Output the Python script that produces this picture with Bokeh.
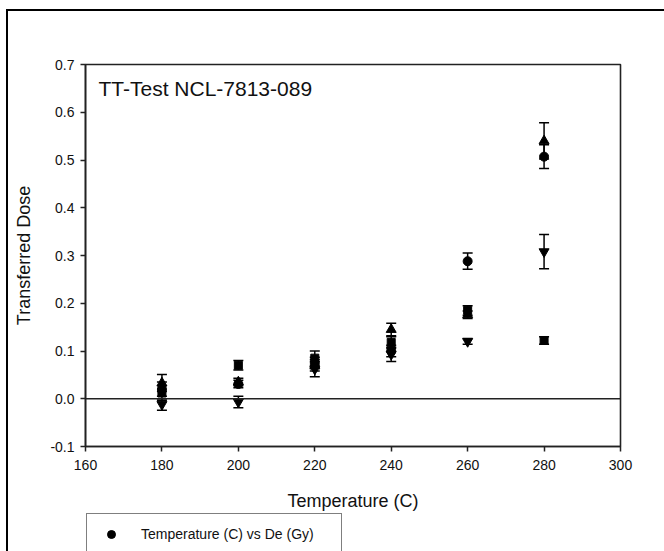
from bokeh.plotting import figure
from bokeh.layouts import column, row
from bokeh.models import (ColumnDataSource, Whisker, TeeHead, Span, Legend, LegendItem,
                          Label, FixedTicker, NumeralTickFormatter, Div)
from bokeh.embed import file_html
from bokeh.resources import INLINE

# ---- data ----
temperatures = [180, 200, 220, 240, 260, 280]

circle_dose = [0.020, 0.031, 0.075, 0.100, 0.288, 0.507]
circle_err = [0.015, 0.008, 0.012, 0.012, 0.017, 0.025]

tri_down_dose = [-0.012, -0.007, 0.062, 0.093, 0.120, 0.308]
tri_down_err = [0.012, 0.012, 0.016, 0.015, 0.006, 0.036]

square_dose = [0.012, 0.070, 0.085, 0.118, 0.185, 0.122]
square_err = [0.015, 0.010, 0.015, 0.012, 0.010, 0.008]

tri_up_dose = [0.033, 0.035, 0.070, 0.145, 0.176, 0.540]
tri_up_err = [0.018, 0.008, 0.012, 0.013, 0.008, 0.038]

x_ticks = [160, 180, 200, 220, 240, 260, 280, 300]
y_ticks = [-0.1, 0.0, 0.1, 0.2, 0.3, 0.4, 0.5, 0.6, 0.7]

title_text = "TT-Test NCL-7813-089"
x_title = "Temperature (C)"
y_title = "Transferred Dose"
legend_label = "Temperature (C) vs De (Gy)"

FONT = "Liberation Sans"
X_RANGE = (160, 300)

p = figure(frame_width=535, frame_height=382,
           min_border_left=77, min_border_top=53, min_border_right=44, min_border_bottom=40,
           x_range=X_RANGE, y_range=(-0.1, 0.7),
           output_backend="svg", toolbar_location=None)

p.xgrid.visible = False
p.ygrid.visible = False
p.outline_line_color = "#222222"
p.outline_line_width = 1.6
p.outline_line_alpha = 1.0

for ax in (p.xaxis[0], p.yaxis[0]):
    ax.axis_line_width = 1.6
    ax.axis_line_color = "#222222"
    ax.major_tick_line_width = 1.5
    ax.major_tick_line_color = "#222222"
    ax.major_tick_out = 5
    ax.major_tick_in = 0
    ax.minor_tick_out = 0
    ax.minor_tick_in = 0
    ax.major_label_text_font = FONT
    ax.major_label_text_font_size = "14px"
    ax.major_label_text_color = "#111111"
    ax.axis_label_text_font = FONT
    ax.axis_label_text_font_size = "18px"
    ax.axis_label_text_font_style = "normal"
    ax.axis_label_text_color = "#111111"

p.xaxis.ticker = FixedTicker(ticks=x_ticks)
p.yaxis.ticker = FixedTicker(ticks=y_ticks)
p.yaxis.formatter = NumeralTickFormatter(format="0.0")
p.yaxis.axis_label = y_title
p.xaxis.major_label_standoff = 8
p.yaxis.major_label_standoff = 6
p.yaxis.axis_label_standoff = 13

# zero reference line
p.add_layout(Span(location=0, dimension="width", line_color="#222222", line_width=1.6))

series = [
    (circle_dose, circle_err, "circle", 9),
    (tri_down_dose, tri_down_err, "inverted_triangle", 10),
    (square_dose, square_err, "square", 8),
    (tri_up_dose, tri_up_err, "triangle", 10),
]

renderers = []
for dose, err, marker, size in series:
    src = ColumnDataSource(dict(
        x=temperatures,
        y=dose,
        upper=[d + e for d, e in zip(dose, err)],
        lower=[d - e for d, e in zip(dose, err)],
    ))
    w = Whisker(source=src, base="x", upper="upper", lower="lower", dimension="height",
                line_color="black", line_width=1.5,
                upper_head=TeeHead(size=10, line_width=1.5, line_color="black"),
                lower_head=TeeHead(size=10, line_width=1.5, line_color="black"))
    p.add_layout(w)
    r = p.scatter("x", "y", source=src, marker=marker, size=size,
                  fill_color="black", line_color="black")
    renderers.append(r)

p.add_layout(Label(x=163.4, y=0.65, text=title_text, text_font=FONT,
                   text_font_size="21px", text_baseline="middle", text_color="#111111"))

# ---- strip below the chart: x-axis title and legend (cut off at the window's bottom) ----
p2 = figure(width=656, height=65, min_border=0, x_range=X_RANGE, y_range=(100, 165),
            output_backend="svg", toolbar_location=None)
p2.axis.visible = False
p2.grid.visible = False
p2.outline_line_color = None
# same circle series, outside this strip's visible range: only its legend glyph shows
legend_glyph = p2.scatter(x=temperatures, y=circle_dose, marker="circle", size=9,
                          fill_color="black", line_color="black")
p2.add_layout(Label(x=sum(X_RANGE) / 2, y=151, text=x_title, text_font=FONT,
                    text_font_size="18px", text_align="center", text_baseline="middle",
                    text_color="#111111"))
legend = Legend(items=[LegendItem(label=legend_label, renderers=[legend_glyph])],
                location=(1, -4), padding=10, glyph_width=28, label_standoff=16,
                label_width=190, label_height=20, glyph_height=20,
                border_line_color="black", border_line_width=1.6,
                background_fill_color="white", background_fill_alpha=1.0,
                label_text_font=FONT, label_text_font_size="14px", label_text_color="#111111",
                margin=0)
p2.add_layout(legend, "center")

top_line = Div(text="", width=658, height=2, margin=0, styles={"background-color": "#000"})
left_line = Div(text="", width=2, height=540, margin=0, styles={"background-color": "#000"})

layout = column(top_line, row(left_line, column(p, p2, spacing=0), spacing=0), spacing=0)
layout.styles = {"margin-left": "6px", "margin-top": "9px"}

open("out.html", "w").write(file_html(layout, INLINE))
